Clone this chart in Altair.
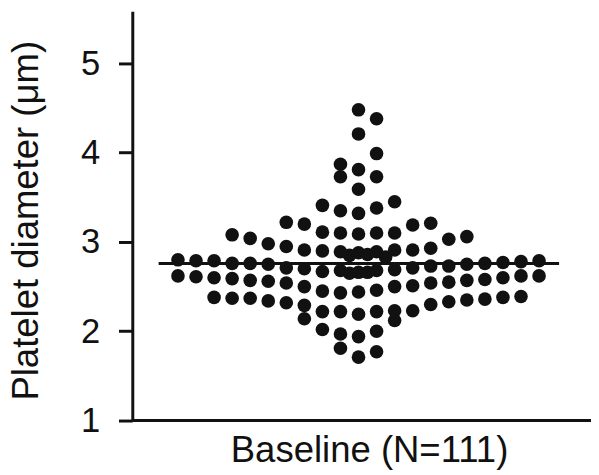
import altair as alt
import pandas as pd

# ---- data ----
# swarm column of each dot (0 = centre) and its platelet diameter (µm)
column_offset = (
    [-10] * 2 + [-9] * 2 + [-8] * 3 + [-7] * 4 + [-6] * 4 + [-5] * 4 + [-4] * 5
    + [-3] * 6 + [-2] * 7 + [-1] * 10 + [-0.5] * 2 + [0] * 12 + [0.5] * 2
    + [1] * 11 + [1.5] * 1 + [2] * 7 + [3] * 5 + [4] * 5 + [5] * 4 + [6] * 4
    + [7] * 3 + [8] * 3 + [9] * 3 + [10] * 2
)
diameter_um = [
    2.80, 2.62,
    2.79, 2.61,
    2.79, 2.60, 2.38,
    3.08, 2.76, 2.59, 2.37,
    3.04, 2.76, 2.57, 2.37,
    2.98, 2.75, 2.56, 2.34,
    3.22, 2.95, 2.71, 2.54, 2.32,
    3.20, 2.91, 2.70, 2.50, 2.29, 2.14,
    3.41, 3.11, 2.90, 2.67, 2.45, 2.22, 2.02,
    3.87, 3.73, 3.35, 3.10, 2.89, 2.68, 2.43, 2.22, 1.97, 1.81,
    2.85, 2.65,
    4.48, 4.21, 3.81, 3.59, 3.32, 3.09, 2.88, 2.66, 2.44, 2.19, 1.94, 1.71,
    2.86, 2.66,
    4.38, 3.99, 3.73, 3.38, 3.10, 2.89, 2.68, 2.46, 2.22, 2.00, 1.77,
    2.83,
    3.45, 3.10, 2.91, 2.69, 2.50, 2.23, 2.12,
    3.19, 2.91, 2.71, 2.51, 2.23,
    3.21, 2.93, 2.73, 2.54, 2.30,
    3.03, 2.73, 2.55, 2.33,
    3.06, 2.75, 2.57, 2.35,
    2.76, 2.58, 2.36,
    2.77, 2.60, 2.38,
    2.78, 2.62, 2.39,
    2.79, 2.62,
]
median_um = [2.76]
median_span = [-11.07, 11.11]
y_ticks = [1, 2, 3, 4, 5]
x_title = "Baseline (N=111)"
y_title = "Platelet diameter (μm)"

points_df = pd.DataFrame({"offset": column_offset, "diameter": diameter_um})
median_df = pd.DataFrame({"x": [median_span[0]], "x2": [median_span[1]], "y": median_um})

W, H = 457, 415
FONT = "Liberation Sans"
INK = "#111111"

xscale = alt.Scale(domain=[-12.53, 12.44], nice=False, zero=False)
yscale = alt.Scale(domain=[1, 5.585], nice=False, zero=False)

points = alt.Chart(points_df).mark_circle(size=190, color=INK, opacity=1).encode(
    x=alt.X(
        "offset:Q",
        scale=xscale,
        axis=alt.Axis(
            title=x_title, labels=False, ticks=False, grid=False, domain=False,
            titleFont=FONT, titleFontSize=37, titleFontWeight="normal", titleColor=INK,
            titleX=240, titleY=42, titleAlign="center", titleBaseline="alphabetic",
        ),
    ),
    y=alt.Y(
        "diameter:Q",
        scale=yscale,
        axis=alt.Axis(
            title=y_title, values=y_ticks, grid=False, format="d",
            domainColor=INK, domainWidth=3, tickColor=INK, tickWidth=3, tickSize=14,
            labelFont=FONT, labelFontSize=35, labelColor=INK, labelPadding=19,
            titleFont=FONT, titleFontSize=37, titleFontWeight="normal", titleColor=INK,
            titleAngle=270, titleX=-107, titleY=212, titleAlign="center", titleBaseline="middle",
        ),
    ),
)

median = alt.Chart(median_df).mark_rule(color=INK, strokeWidth=3).encode(
    x=alt.X("x:Q", scale=xscale), x2="x2:Q", y=alt.Y("y:Q", scale=yscale)
)

x_axis_line = alt.Chart(pd.DataFrame({"a": [0]})).mark_rule(color=INK, strokeWidth=3).encode(
    x=alt.value(0), x2=alt.value(W + 8), y=alt.value(H)
)

chart = (
    alt.layer(points, median, x_axis_line)
    .properties(
        width=W, height=H,
        autosize=alt.AutoSizeParams(type="none"),
        padding={"left": 126, "top": 0, "right": 8, "bottom": 52},
    )
    .configure_view(stroke=None)
)

chart.save("out.html", embed_options={"renderer": "svg", "actions": False})
